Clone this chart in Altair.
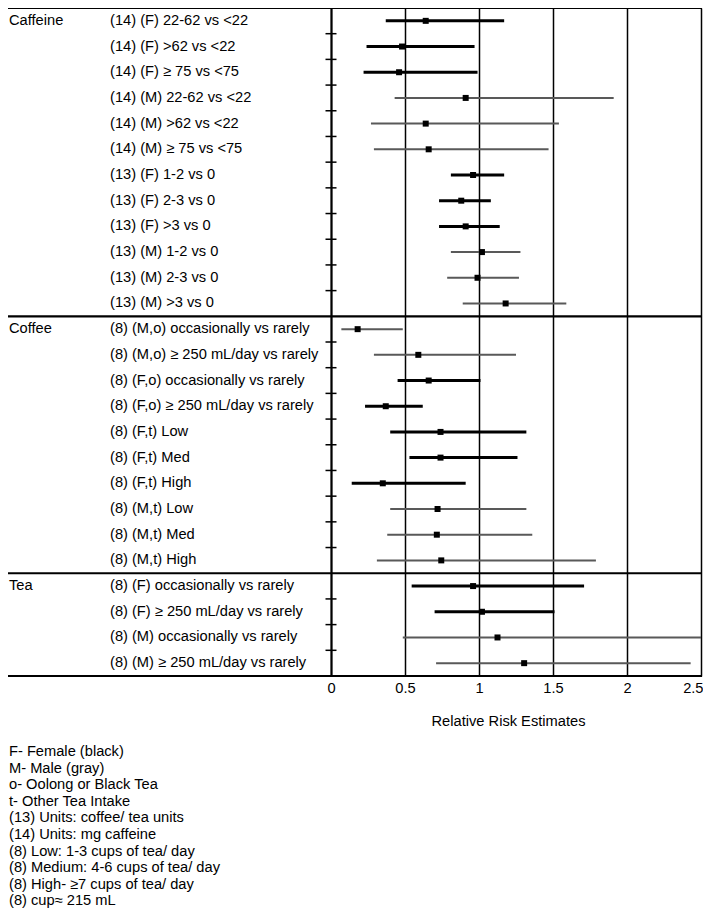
import altair as alt
import pandas as pd

group_names = ["Caffeine", "Coffee", "Tea"]
group_sizes = [12, 10, 4]

labels = [
    "(14) (F) 22-62 vs <22",
    "(14) (F) >62 vs <22",
    "(14) (F) \u2265 75 vs <75",
    "(14) (M) 22-62 vs <22",
    "(14) (M) >62 vs <22",
    "(14) (M) \u2265 75 vs <75",
    "(13) (F) 1-2 vs 0",
    "(13) (F) 2-3 vs 0",
    "(13) (F) >3 vs 0",
    "(13) (M) 1-2 vs 0",
    "(13) (M) 2-3 vs 0",
    "(13) (M) >3 vs 0",
    "(8) (M,o) occasionally vs rarely",
    "(8) (M,o) \u2265 250 mL/day vs rarely",
    "(8) (F,o) occasionally vs rarely",
    "(8) (F,o) \u2265 250 mL/day vs rarely",
    "(8) (F,t) Low",
    "(8) (F,t) Med",
    "(8) (F,t) High",
    "(8) (M,t) Low",
    "(8) (M,t) Med",
    "(8) (M,t) High",
    "(8) (F) occasionally vs rarely",
    "(8) (F) \u2265 250 mL/day vs rarely",
    "(8) (M) occasionally vs rarely",
    "(8) (M) \u2265 250 mL/day vs rarely",
]

sex = ["F", "F", "F", "M", "M", "M", "F", "F", "F", "M", "M", "M",
       "M", "M", "F", "F", "F", "F", "F", "M", "M", "M",
       "F", "F", "M", "M"]

estimate = [0.64, 0.48, 0.46, 0.91, 0.64, 0.66, 0.96, 0.88, 0.91, 1.02, 0.99, 1.18,
            0.18, 0.59, 0.66, 0.37, 0.74, 0.74, 0.35, 0.72, 0.715, 0.745,
            0.96, 1.02, 1.125, 1.305]

lower = [0.37, 0.24, 0.22, 0.43, 0.27, 0.29, 0.81, 0.73, 0.73, 0.81, 0.785, 0.89,
         0.07, 0.29, 0.45, 0.23, 0.40, 0.53, 0.14, 0.40, 0.38, 0.31,
         0.545, 0.70, 0.485, 0.71]

upper = [1.17, 0.97, 0.99, 1.91, 1.54, 1.47, 1.17, 1.08, 1.14, 1.28, 1.27, 1.59,
         0.485, 1.25, 1.01, 0.62, 1.32, 1.26, 0.91, 1.32, 1.36, 1.79,
         1.71, 1.51, 2.6, 2.43]

x_ticks = [0, 0.5, 1, 1.5, 2, 2.5]

footnotes = [
    "F- Female (black)",
    "M- Male (gray)",
    "o- Oolong or Black Tea",
    "t- Other Tea Intake",
    "(13) Units: coffee/ tea units",
    "(14) Units: mg caffeine",
    "(8) Low: 1-3 cups of tea/ day",
    "(8) Medium: 4-6 cups of tea/ day",
    "(8) High- \u22657 cups of tea/ day",
    "(8) cup\u2248 215 mL",
]

FONT = "Liberation Sans"
FS = 14.67

# ---- derived tables ----
groups = []
for g, n in zip(group_names, group_sizes):
    groups += [g] * n
df = pd.DataFrame({
    "row": list(range(len(labels))),
    "group": groups,
    "label": labels,
    "sex": sex,
    "est": estimate,
    "lo": lower,
    "hi": upper,
})

starts = [0]
for n in group_sizes[:-1]:
    starts.append(starts[-1] + n)
grp_df = pd.DataFrame({"row": starts, "group": group_names})

sep_pos = [-0.5] + [s + n - 0.5 for s, n in zip(starts, group_sizes)]
sep_df = pd.DataFrame({"pos": sep_pos})

tick_pos = []
for s, n in zip(starts, group_sizes):
    tick_pos += [s + k + 0.5 for k in range(n - 1)]
tick_df = pd.DataFrame({"pos": tick_pos})

foot_df = pd.DataFrame({"txt": ["\n".join(footnotes)]})

W, H = 370, 668
ys = alt.Scale(domain=[-0.5, len(labels) - 0.5], reverse=True, nice=False, zero=False)
xs = alt.Scale(domain=[0, 2.5], nice=False, zero=False)
last_tick = x_ticks[-1]

x_axis = alt.Axis(
    values=x_ticks, grid=True, gridColor="black", gridWidth=1.5, gridOpacity=1,
    domain=False, ticks=False, labelFlush=False, labelFontSize=FS, labelColor="black",
    labelFont=FONT, labelPadding=4, format="~g",
    labelAlign={"condition": {"test": f"datum.value == {last_tick}", "value": "right"}, "value": "center"},
    labelOffset={"condition": {"test": f"datum.value == {last_tick}", "value": 2}, "value": 0},
    title="Relative Risk Estimates",
    titleFont=FONT, titleFontSize=FS, titleFontWeight="normal", titleColor="black",
    titlePadding=19, titleX=177,
)
y_axis = alt.Axis(domain=True, domainColor="black", domainWidth=2, ticks=False,
                  labels=False, grid=False, title=None, values=[0])

bars = alt.Chart(df).mark_rule(clip=True).encode(
    x=alt.X("lo:Q", scale=xs, axis=x_axis),
    x2="hi:Q",
    y=alt.Y("row:Q", scale=ys, axis=y_axis),
    color=alt.Color("sex:N", scale=alt.Scale(domain=["F", "M"], range=["#000000", "#595959"]), legend=None),
    strokeWidth=alt.StrokeWidth("sex:N", scale=alt.Scale(domain=["F", "M"], range=[3, 2]), legend=None),
)

points = alt.Chart(df).mark_point(shape="square", filled=True, size=36, color="black", opacity=1).encode(
    x=alt.X("est:Q", scale=xs),
    y=alt.Y("row:Q", scale=ys),
)

seps = alt.Chart(sep_df).mark_rule(color="black", strokeWidth=2.2).encode(
    x=alt.value(-323), x2=alt.value(371),
    y=alt.Y("pos:Q", scale=ys),
)

ticks = alt.Chart(tick_df).mark_rule(color="black", strokeWidth=1.5).encode(
    x=alt.value(-5.5), x2=alt.value(5.5),
    y=alt.Y("pos:Q", scale=ys),
)

row_text = alt.Chart(df).mark_text(align="left", baseline="middle", font=FONT, fontSize=FS, color="black").encode(
    x=alt.value(-221),
    y=alt.Y("row:Q", scale=ys),
    text="label:N",
)

grp_text = alt.Chart(grp_df).mark_text(align="left", baseline="middle", font=FONT, fontSize=FS, color="black").encode(
    x=alt.value(-322),
    y=alt.Y("row:Q", scale=ys),
    text="group:N",
)

foot_text = alt.Chart(foot_df).mark_text(align="left", baseline="top", font=FONT, fontSize=FS,
                                         color="black", lineBreak="\n", lineHeight=16.6).encode(
    x=alt.value(-322),
    y=alt.value(736),
    text="txt:N",
)

chart = alt.layer(seps, bars, points, ticks, row_text, grp_text, foot_text).properties(
    width=W, height=H,
    autosize=alt.AutoSizeParams(type="none"),
    padding={"left": 323, "top": 0, "right": 2, "bottom": 234},
).configure_view(stroke=None).configure(background="white")

chart.save("out.html", embed_options={"renderer": "svg", "actions": False})
